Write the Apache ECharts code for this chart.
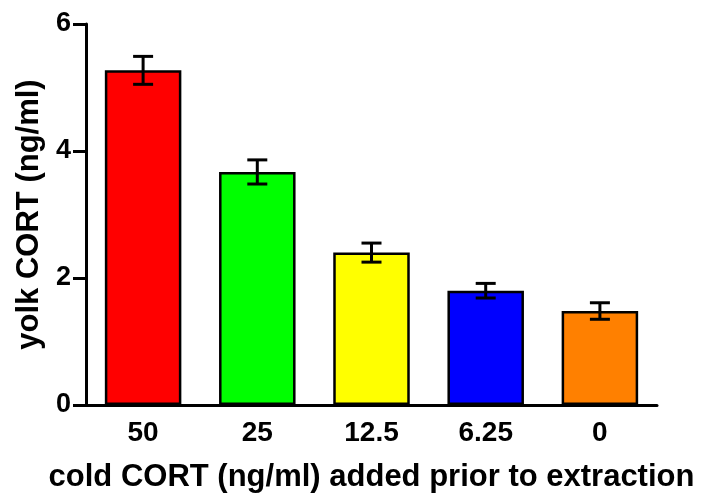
<!DOCTYPE html>
<html>
<head>
<meta charset="utf-8">
<script src="https://cdn.jsdelivr.net/npm/echarts@6/dist/echarts.min.js"></script>
<style>
  html, body { margin: 0; padding: 0; background: #ffffff; }
  #chart { width: 705px; height: 494px; }
</style>
</head>
<body>
<div id="chart"></div>
<script>
// Yolk CORT recovered after spiking with cold CORT before extraction
const categories = ['50', '25', '12.5', '6.25', '0'];
const means = [5.27, 3.67, 2.40, 1.80, 1.48];
const sems = [0.22, 0.19, 0.15, 0.115, 0.13];
const barColors = ['#ff0000', '#00ff00', '#ffff00', '#0000ff', '#ff8000'];
const yTicks = [0, 2, 4, 6];

const FONT = '"Liberation Sans", Arial, sans-serif';

const chart = echarts.init(document.getElementById('chart'), null, { renderer: 'canvas' });

const errData = categories.map((c, i) => [i, means[i] - sems[i], means[i] + sems[i]]);

chart.setOption({
  animation: false,
  backgroundColor: '#ffffff',
  grid: { left: 86, right: 48, top: 24, bottom: 89, containLabel: false, outerBoundsMode: 'none' },
  xAxis: {
    type: 'category',
    data: categories,
    name: 'cold CORT (ng/ml) added prior to extraction',
    nameLocation: 'middle',
    nameGap: 57,
    nameTextStyle: { fontFamily: FONT, fontWeight: 'bold', fontSize: 31, color: '#000' },
    axisLine: { lineStyle: { color: '#000', width: 3 } },
    axisTick: { alignWithLabel: true, length: 9, lineStyle: { color: '#000', width: 3 } },
    axisLabel: { fontFamily: FONT, fontWeight: 'bold', fontSize: 28, color: '#000', margin: 14 },
    splitLine: { show: false }
  },
  yAxis: {
    type: 'value',
    min: yTicks[0],
    max: yTicks[yTicks.length - 1],
    interval: 2,
    name: 'yolk CORT (ng/ml)',
    nameLocation: 'middle',
    nameGap: 24,
    nameTextStyle: { fontFamily: FONT, fontWeight: 'bold', fontSize: 31, color: '#000' },
    axisLine: { show: true, lineStyle: { color: '#000', width: 3 } },
    axisTick: { show: true, length: 13, lineStyle: { color: '#000', width: 3 } },
    axisLabel: { fontFamily: FONT, fontWeight: 'bold', fontSize: 27, color: '#000', margin: 15 },
    splitLine: { show: false }
  },
  series: [
    {
      type: 'bar',
      barWidth: '67%',
      data: means.map((v, i) => ({
        value: v,
        itemStyle: { color: barColors[i], borderColor: '#000', borderWidth: 2.5 }
      })),
      z: 2
    },
    {
      type: 'custom',
      z: 5,
      data: errData,
      renderItem: function (params, api) {
        const x = api.value(0);
        const lo = api.coord([x, api.value(1)]);
        const hi = api.coord([x, api.value(2)]);
        const half = 10;
        const style = { stroke: '#000', lineWidth: 3, fill: null };
        return {
          type: 'group',
          children: [
            { type: 'line', shape: { x1: lo[0], y1: lo[1], x2: hi[0], y2: hi[1] }, style: style },
            { type: 'line', shape: { x1: hi[0] - half, y1: hi[1], x2: hi[0] + half, y2: hi[1] }, style: style },
            { type: 'line', shape: { x1: lo[0] - half, y1: lo[1], x2: lo[0] + half, y2: lo[1] }, style: style }
          ]
        };
      }
    }
  ]
});
</script>
</body>
</html>
